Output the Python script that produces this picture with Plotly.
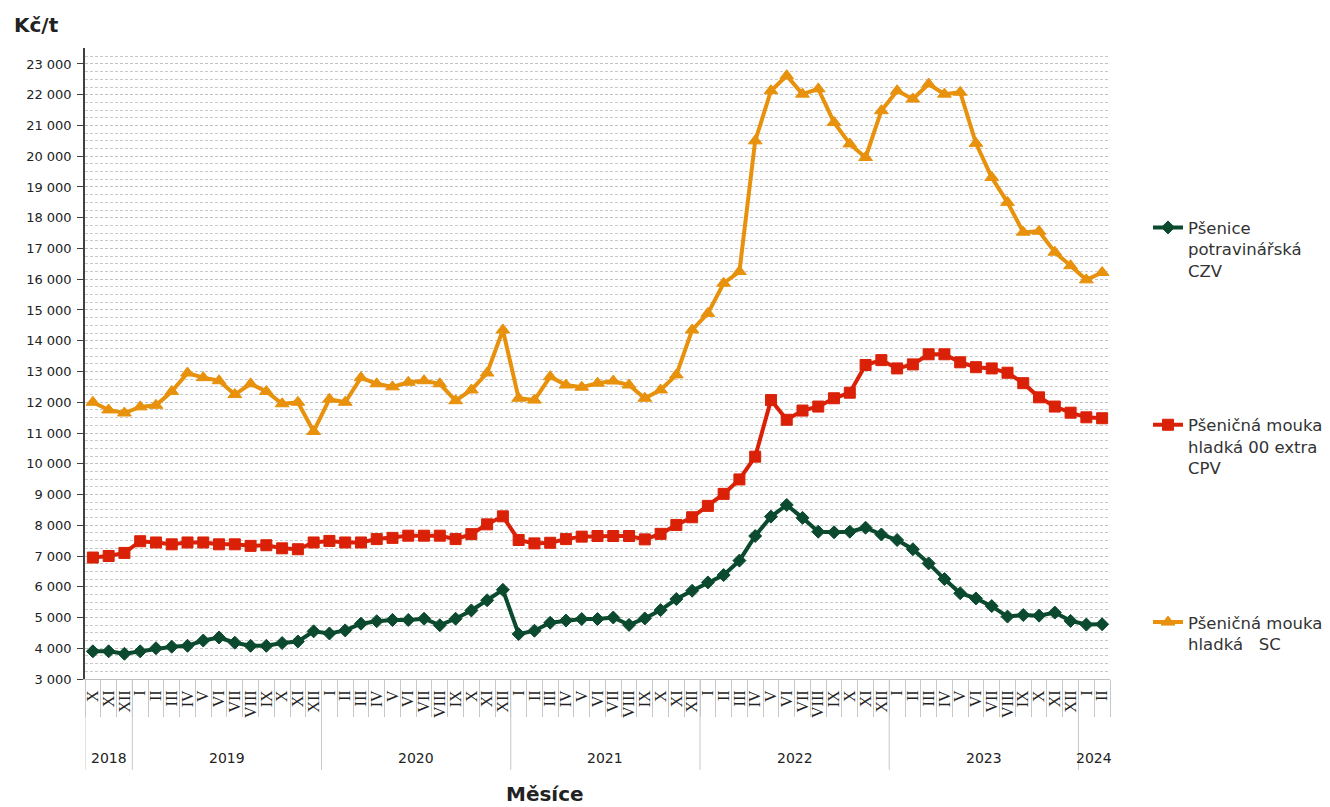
import plotly.graph_objects as go

# ---- categories ----
roman = ["I", "II", "III", "IV", "V", "VI", "VII", "VIII", "IX", "X", "XI", "XII"]
years = ["2018"] * 3 + [str(y) for y in range(2019, 2024) for _ in range(12)] + ["2024"] * 2
months = ["X", "XI", "XII"] + roman * 5 + ["I", "II"]

# ---- series (Kč/t) ----
psenice = [3900, 3900, 3820, 3900, 4000, 4050, 4080, 4250, 4350, 4180, 4080, 4080, 4170, 4220, 4550,
           4480, 4580, 4800, 4880, 4920, 4920, 4960, 4750, 4960, 5230, 5560, 5900,
           4460, 4570, 4830, 4900, 4950, 4950, 5000, 4760, 4970, 5240, 5600, 5870,
           6140, 6380, 6850, 7650, 8280, 8660, 8240, 7790, 7770, 7790, 7920, 7700,
           7520, 7220, 6760, 6250, 5790, 5620, 5370, 5030, 5080, 5060, 5160, 4890,
           4770, 4780]
mouka_00 = [6950, 7000, 7100, 7480, 7440, 7380, 7440, 7440, 7380, 7380, 7330, 7350, 7250, 7220, 7440,
            7490, 7440, 7440, 7550, 7590, 7660, 7660, 7660, 7550, 7710, 8030, 8290,
            7520, 7410, 7430, 7550, 7630, 7650, 7650, 7650, 7540, 7720, 8010, 8260,
            8630, 9020, 9490, 10230, 12070, 11430, 11730, 11860, 12130, 12310, 13210, 13370,
            13100, 13230, 13560, 13560, 13300, 13140, 13100, 12960, 12620, 12160, 11860, 11660,
            11510, 11480]
mouka_sc = [12000, 11750, 11650, 11850, 11900, 12350, 12950, 12800, 12700, 12250, 12600, 12350, 11950, 12000, 11050,
            12100, 12000, 12800, 12600, 12500, 12650, 12700, 12600, 12050, 12400, 12950, 14350,
            12130, 12070, 12830, 12560, 12490, 12620, 12690, 12560, 12130, 12400, 12890, 14350,
            14890, 15870, 16250, 20500, 22130, 22620, 22020, 22190, 21100, 20400, 19960, 21480,
            22130, 21860, 22350, 22020, 22080, 20420, 19310, 18500, 17530, 17560, 16880, 16440,
            15980, 16220]

names = ["Pšenice<br>potravinářská<br>CZV",
         "Pšeničná mouka<br>hladká 00 extra<br>CPV",
         "Pšeničná mouka<br>hladká\u00a0\u00a0 SC"]
colors = ["#0B4A2E", "#DA2107", "#E8910C"]
symbols = ["diamond", "square", "triangle-up"]
sizes = [10, 11, 12]

idx = list(range(len(months)))

fig = go.Figure()
for i, (vals, nm) in enumerate(zip([psenice, mouka_00, mouka_sc], names)):
    fig.add_trace(go.Scatter(
        x=idx, y=vals, name=nm, mode="lines+markers",
        legendgroup="g%d" % i,
        line=dict(color=colors[i], width=4),
        marker=dict(symbol=symbols[i], size=sizes[i], color=colors[i],
                    line=dict(color=colors[i], width=1)),
        cliponaxis=False,
    ))

# year labels and dividers (from the category arrays)
annotations = []
shapes = []
uniq = []
for y in years:
    if y not in uniq:
        uniq.append(y)
for y in uniq:
    pos = [k for k, v in enumerate(years) if v == y]
    annotations.append(dict(text=y, x=sum(pos) / len(pos), xref="x", yref="paper",
                            y=-0.125, xanchor="center", yanchor="middle", showarrow=False,
                            font=dict(family="DejaVu Sans", size=14, color="#222")))
bounds = [-0.5] + [k - 0.5 for k in range(1, len(years)) if years[k] != years[k - 1]]
for b in bounds:
    shapes.append(dict(type="line", xref="x", yref="paper", x0=b, x1=b, y0=0, y1=-0.144,
                       line=dict(color="#c8c8c8", width=1)))

annotations += [
    dict(text="<b>Kč/t</b>", xref="paper", yref="paper", x=(12 - 85) / 1025, y=(679 - 25) / 631,
         xanchor="left", yanchor="middle", showarrow=False,
         font=dict(size=20, color="#222")),
    dict(text="<b>Měsíce</b>", xref="paper", yref="paper", x=(545 - 85) / 1025, y=(679 - 808) / 631,
         xanchor="center", yanchor="bottom", showarrow=False,
         font=dict(size=20, color="#222")),
]

fig.update_layout(
    width=1322, height=799,
    margin=dict(l=77, r=220, t=40, b=128),
    paper_bgcolor="white", plot_bgcolor="white",
    separators=", ",
    font=dict(family="DejaVu Sans", size=13, color="#222"),
    showlegend=True,
    legend=dict(xref="container", x=1140 / 1322, xanchor="left",
                y=0.743, yanchor="top",
                valign="top", tracegroupgap=130,
                font=dict(size=16.5, color="#333"), bgcolor="rgba(0,0,0,0)"),
    xaxis=dict(range=[-0.5, len(months) - 0.5],
               tickmode="array", tickvals=idx, ticktext=months,
               showgrid=False, showline=True, linecolor="#bfbfbf", linewidth=1,
               ticks="", ticklabelstandoff=4,
               minor=dict(ticks="outside", tick0=-0.5, dtick=1, ticklen=37,
                          tickcolor="#c8c8c8", tickwidth=1, showgrid=False),
               tickangle=-90, tickfont=dict(family="Liberation Serif", size=16, color="#222"),
               zeroline=False),
    yaxis=dict(range=[3000, 23520], dtick=1000, tick0=3000, tickformat=",d",
               showline=True, linecolor="#404040", linewidth=1.5,
               ticks="outside", ticklen=6, tickcolor="#404040",
               ticklabelstandoff=3,
               showgrid=True, gridcolor="#c0c0c0", gridwidth=1, griddash="3px,2px",
               minor=dict(dtick=250, showgrid=True, gridcolor="#c8c8c8",
                          griddash="3px,2px", gridwidth=1),
               zeroline=False, tickfont=dict(size=13, color="#222")),
    annotations=annotations,
    shapes=shapes,
)

fig.write_html("out.html")
